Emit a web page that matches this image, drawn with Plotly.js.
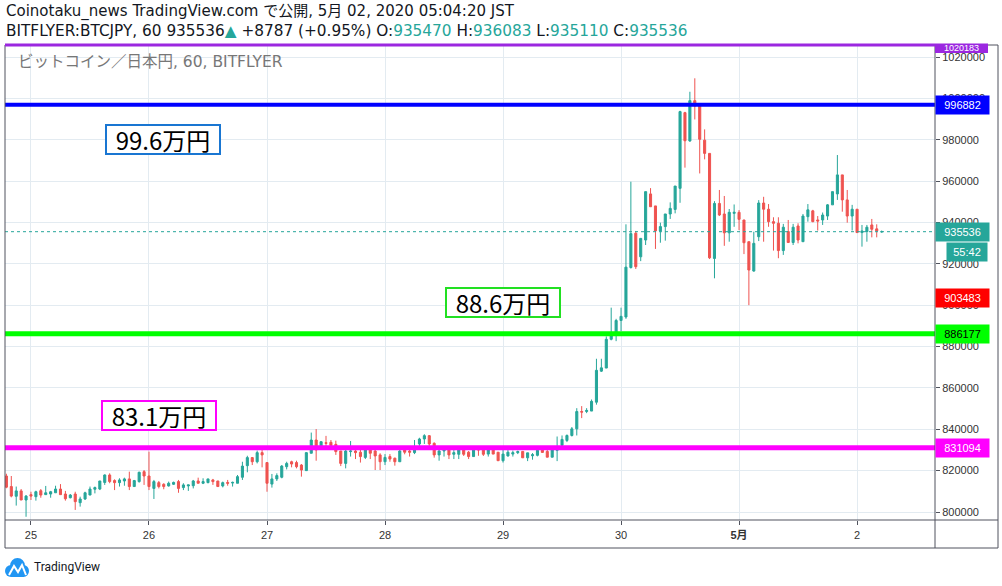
<!DOCTYPE html>
<html><head><meta charset="utf-8">
<script src="https://cdn.plot.ly/plotly-3.0.1.min.js"></script>
<style>html,body{margin:0;padding:0;background:#fff;}#chart{width:1002px;height:586px;}</style>
</head><body><div id="chart"></div>
<script>
// Hourly BTC/JPY candles, first candle 2020-04-24 19:00 JST
const firstCandle = '2020-04-24 19:00';
const open = [
817400,812300,807600,810200,805800,808400,807400,810300,808400,808700,
809300,811100,808700,806900,808700,804500,806300,808200,811000,811100,
814300,817900,815200,814200,815000,816000,812300,814700,819500,817400,
811400,814200,813400,812600,813400,814700,811800,812600,812700,815000,
813900,814200,815500,815000,812600,814300,814000,813900,816800,822400,
826300,824300,828700,823900,813500,816000,816800,821900,824300,823900,
822700,820000,828400,834800,830300,833500,833700,832700,829500,823500,
829200,829500,828900,826400,830800,829500,827600,824300,826800,826000,
824300,830000,829500,828700,832900,835300,836900,833200,827600,829500,
830000,827900,827900,830000,828900,826800,830500,830500,828000,830500,
828900,824800,827100,828000,828700,829300,826200,827200,827400,830100,
829300,826500,829800,832200,834600,837000,840200,848600,848600,848800,
853100,868100,869600,883500,885400,892600,894300,918200,934800,923400,
931500,953800,948000,935900,938000,944100,946300,956500,993100,979400,
998900,996300,979800,973400,922600,949200,944100,935000,944400,944900,
941200,930700,916500,933100,949400,946400,940400,939600,926400,935600,
930300,938300,930700,942800,945600,941200,941200,943100,948500,953800,
963000,950900,943100,946400,935100,935600,938800,936900,935470];
const high = [
818500,817400,812300,811100,808200,809800,810300,811100,812600,810200,
812700,813500,810200,808700,809800,807400,809800,812300,812300,815000,
818200,818700,815800,816300,816600,819500,815500,819500,820300,829200,
815500,815000,813900,814700,814700,815500,813900,813100,815500,816600,
816300,816000,816000,815000,814700,815500,814700,817900,824300,827200,
826600,829700,830000,823900,818400,818700,822700,824300,824800,824800,
823200,828900,838400,840100,834000,836800,834800,834500,829500,830000,
834300,830300,830000,830800,831600,830500,828400,828000,828000,826300,
830000,830800,830300,834800,835900,837600,837200,833700,830000,830000,
830800,830000,830500,830300,829500,830800,830800,830800,830800,830800,
828900,830000,830000,829700,829700,829300,828600,828500,830100,830100,
830100,830100,836500,837000,837500,841100,850200,851200,850200,854400,
874100,874100,884900,898800,893400,898800,939100,959700,935900,932500,
954900,956600,948000,939900,944100,949700,957600,994000,993500,1003200,
1009700,996300,985000,973400,950300,955700,952800,946500,948700,946000,
941200,930700,935500,950800,952400,948900,942500,942500,939300,941200,
939300,939600,944100,948900,946100,943100,944800,948900,954900,972600,
963000,955700,948500,946400,938800,938800,941700,939100,936083];
const low = [
811500,807100,803100,805800,797700,805800,805500,806900,808400,806900,
809300,808400,805500,806600,801000,802600,805800,808200,809000,810600,
813100,813900,810600,812300,812700,810600,812300,814200,813100,810600,
806300,811400,811000,812300,813100,809300,810600,810200,811400,813900,
813500,813900,813100,812300,811900,812700,812300,813900,815500,819200,
822700,823500,821600,809800,811800,815000,816300,820600,821600,821100,
817100,820000,828400,824800,830000,831600,831600,827600,822200,821100,
826800,825600,823900,825600,825600,820300,820300,822700,824300,822400,
824300,827900,826800,828000,830800,832900,830800,826300,824800,826800,
825600,825600,825600,827100,825600,826800,827200,827100,826800,828000,
824800,823900,826800,826800,828000,826200,824600,825300,826900,828800,
826500,826500,824600,832200,833800,836500,837000,845400,847800,848800,
851900,867700,869600,883000,882600,887500,893400,917700,917500,921300,
929100,947600,927200,930200,931200,941700,944400,949500,966500,979000,
989800,963700,970500,922300,913000,943100,928700,930700,937900,936300,
924700,900000,916200,931000,930700,937900,926400,922700,924300,930300,
929100,929900,930700,940400,940100,936100,938800,941200,948500,950900,
945200,939900,936100,935100,928300,930700,932800,932800,935110];
const close = [
812000,807700,810200,805800,807700,807700,809800,808200,809300,809800,
811100,808400,806400,808200,805000,806300,809300,811100,811800,815000,
817900,814700,814200,815500,816000,812300,815200,819200,817400,812300,
814700,812300,812300,813900,814300,811400,813100,813100,815000,813900,
814700,816000,814700,812300,814200,813900,814300,817100,822200,826300,
824300,828700,827600,813900,816000,817600,822200,823500,823200,821900,
820300,828700,834800,830000,834000,833200,832100,829200,823500,829500,
829500,828700,826800,830300,828400,827100,824300,826400,825600,824300,
829500,828900,828900,830500,835300,836900,832900,827600,829500,830000,
827600,828700,830000,827900,826800,830300,830000,827900,830300,828000,
824800,828000,828900,828700,829200,826200,828600,827700,829800,828800,
826500,830100,830600,835100,837000,840200,848600,848300,849100,853500,
868500,869700,883500,885400,892600,894600,918400,934600,918600,932300,
954900,947600,935900,938000,944100,946800,957600,993600,979500,998900,
996300,980200,973400,922900,949200,943600,935000,944900,944900,941500,
930200,917000,929900,949400,946400,940400,939600,926400,937700,930300,
937700,931500,943100,946100,940400,940700,943600,948500,954900,963000,
950900,943100,946400,935100,935900,937700,936700,935900,935536];

// axis ticks
const dayTicks = ['2020-04-25','2020-04-26','2020-04-27','2020-04-28','2020-04-29','2020-04-30','2020-05-01','2020-05-02'];
const dayLabels = ['25','26','27','28','29','30','<b>5月</b>','2'];
const priceTicks = [800000,820000,840000,860000,880000,900000,920000,940000,960000,980000,1000000,1020000];
const priceLabels = ['800000','820000','840000','860000','880000','900000','920000','940000','960000','980000','1000000','1020000'];

// horizontal levels
const levelBlue = 996882, levelGreen = 886177, levelMagenta = 831094;
const lastPrice = 935536, redPrice = 903483, topPrice = '1020183';
const boxTexts = ['99.6万円','88.6万円','83.1万円'];
const countdown = '55:42';

// hourly timestamps from the first candle
const t0 = Date.UTC(2020,3,24,19);
const times = open.map((_, i) => new Date(t0 + i*3600000).toISOString().slice(0,16).replace('T',' '));

const UP = '#26a69a', DOWN = '#ef5350', FRAME = '#50535e', GRID = '#e3ebf1';
const X = p => (p-5)/930, Y = p => (520-p)/475;
const HEAD = '"DejaVu Sans", "Noto Sans CJK JP", sans-serif';

const trace = {
  type:'candlestick', x: times, open, high, low, close,
  increasing:{line:{color:UP,width:1},fillcolor:UP},
  decreasing:{line:{color:DOWN,width:1},fillcolor:DOWN},
  whiskerwidth:0, hoverinfo:'skip', showlegend:false
};

const shapes = [
  // price levels
  {type:'line',xref:'paper',yref:'y',x0:0,x1:1,y0:lastPrice,y1:lastPrice,line:{color:UP,width:1,dash:'dot'},layer:'above'},
  {type:'line',xref:'paper',yref:'y',x0:0,x1:1,y0:levelBlue,y1:levelBlue,line:{color:'#0000ff',width:4},layer:'above'},
  {type:'line',xref:'paper',yref:'y',x0:0,x1:1,y0:levelGreen,y1:levelGreen,line:{color:'#00ff00',width:5},layer:'above'},
  {type:'line',xref:'paper',yref:'y',x0:0,x1:1,y0:levelMagenta,y1:levelMagenta,line:{color:'#ff00ff',width:5},layer:'above'},
  // frame
  {type:'rect',xref:'paper',yref:'paper',x0:0,x1:X(998),y0:Y(548),y1:Y(45),line:{color:FRAME,width:1},layer:'above'},
  {type:'line',xref:'paper',yref:'paper',x0:1,x1:1,y0:Y(548),y1:Y(45),line:{color:FRAME,width:1},layer:'above'},
  {type:'line',xref:'paper',yref:'paper',x0:0,x1:X(998),y0:0,y1:0,line:{color:FRAME,width:1},layer:'above'},
  {type:'line',xref:'paper',yref:'paper',x0:0,x1:X(988),y0:Y(45),y1:Y(45),line:{color:'#9b27e0',width:3},layer:'above'},
  {type:'rect',xref:'paper',yref:'paper',x0:1,x1:X(988),y0:Y(53),y1:Y(44),fillcolor:'#9b27e0',line:{width:0},layer:'above'},
  // TradingView logo
  {type:'circle',xref:'paper',yref:'paper',x0:X(5),x1:X(17),y0:Y(577),y1:Y(565),fillcolor:'#2196f3',line:{width:0}},
  {type:'circle',xref:'paper',yref:'paper',x0:X(10),x1:X(25),y0:Y(574),y1:Y(558),fillcolor:'#2196f3',line:{width:0}},
  {type:'circle',xref:'paper',yref:'paper',x0:X(18),x1:X(29),y0:Y(577),y1:Y(565),fillcolor:'#2196f3',line:{width:0}},
  {type:'rect',xref:'paper',yref:'paper',x0:X(11),x1:X(24),y0:Y(577),y1:Y(569),fillcolor:'#2196f3',line:{width:0}},
  {type:'path',xref:'paper',yref:'paper',path:`M ${X(9)},${Y(575)} L ${X(14)},${Y(566)} L ${X(18)},${Y(572)} L ${X(22)},${Y(565)} L ${X(26)},${Y(575)}`,line:{color:'#ffffff',width:2}}
];

function tag(y, text, bg, fg, yref){
  return {xref:'paper',yref:yref||'y',x:1,y:y,xanchor:'left',yanchor:'middle',text:text,showarrow:false,
    bgcolor:bg,width:51,height:16,borderpad:1,align:'center',font:{family:'Liberation Sans',size:11,color:fg}};
}
function box(cx, cy, text, color){
  return {xref:'paper',yref:'paper',x:X(cx),y:Y(cy),xanchor:'center',yanchor:'middle',text:text,showarrow:false,
    bgcolor:'#ffffff',bordercolor:color,borderwidth:2,borderpad:0,width:112,height:27,
    font:{family:'"Noto Sans CJK JP"',size:24,color:'#000'}};
}
const teal = s => `<span style="color:${UP}">${s}</span>`;
const annotations = [
  {xref:'paper',yref:'paper',x:X(4),y:Y(12),xanchor:'left',yanchor:'middle',showarrow:false,
   text:'Coinotaku_news TradingView.com で公開, 5月 02, 2020 05:04:20 JST',font:{family:HEAD,size:15,color:'#131722'}},
  {xref:'paper',yref:'paper',x:X(4),y:Y(31),xanchor:'left',yanchor:'middle',showarrow:false,
   text:`BITFLYER:BTCJPY, 60 935536${teal('▲')} +8787 (+0.95%) O:${teal('935470')} H:${teal('936083')} L:${teal('935110')} C:${teal('935536')}`,
   font:{family:HEAD,size:15.3,color:'#131722'}},
  {xref:'paper',yref:'paper',x:X(16),y:Y(62),xanchor:'left',yanchor:'middle',showarrow:false,
   text:'ビットコイン／日本円, 60, BITFLYER',font:{family:HEAD,size:15.5,color:'#777777'}},
  {xref:'paper',yref:'paper',x:X(32),y:Y(567),xanchor:'left',yanchor:'middle',showarrow:false,
   text:'TradingView',font:{family:'Roboto',size:12,color:'#131722'}},
  box(163,139,boxTexts[0],'#1976d2'),
  box(503,302.5,boxTexts[1],'#22e022'),
  box(158.5,415.5,boxTexts[2],'#ff00ff'),
  tag(levelBlue,String(levelBlue),'#0000ff','#ffffff'),
  tag(lastPrice,String(lastPrice),UP,'#ffffff'),
  tag(redPrice,String(redPrice),'#ff0000','#ffffff'),
  tag(levelGreen,String(levelGreen),'#00ff00','#000000'),
  tag(levelMagenta,String(levelMagenta),'#ff00ff','#ffffff'),
  {xref:'paper',yref:'paper',x:X(988),y:Y(251.5),xanchor:'right',yanchor:'middle',text:countdown,showarrow:false,
   bgcolor:UP,width:38,height:16,borderpad:1,align:'center',font:{family:'Liberation Sans',size:11,color:'#ffffff'}},
  {xref:'paper',yref:'paper',x:1,y:Y(47.5),xanchor:'left',yanchor:'middle',text:topPrice,showarrow:false,
   width:51,height:7,borderpad:0,align:'center',font:{family:'Liberation Sans',size:9,color:'#ffffff'}}
];

const layout = {
  width:1002, height:586, margin:{l:5,r:67,t:45,b:66},
  paper_bgcolor:'#ffffff', plot_bgcolor:'#ffffff', showlegend:false,
  boxgap:0.4,
  xaxis:{type:'date', range:['2020-04-24 18:43','2020-05-02 15:51'], tickvals:dayTicks, ticktext:dayLabels,
    showgrid:true, gridcolor:GRID, gridwidth:1, zeroline:false, showline:false, ticks:'outside', ticklen:4,
    tickcolor:FRAME, ticklabelstandoff:1, tickfont:{family:'Liberation Sans, "Noto Sans CJK JP"',size:11,color:'#333'},
    rangeslider:{visible:false}, fixedrange:true},
  yaxis:{side:'right', range:[796132,1025802], tickvals:priceTicks, ticktext:priceLabels,
    showgrid:true, gridcolor:GRID, gridwidth:1, zeroline:false, showline:false, ticks:'outside', ticklen:4,
    tickcolor:FRAME, tickfont:{family:'Liberation Sans',size:11,color:'#333'}, fixedrange:true},
  shapes, annotations
};
Plotly.newPlot('chart',[trace],layout,{staticPlot:true,displayModeBar:false});
</script></body></html>
